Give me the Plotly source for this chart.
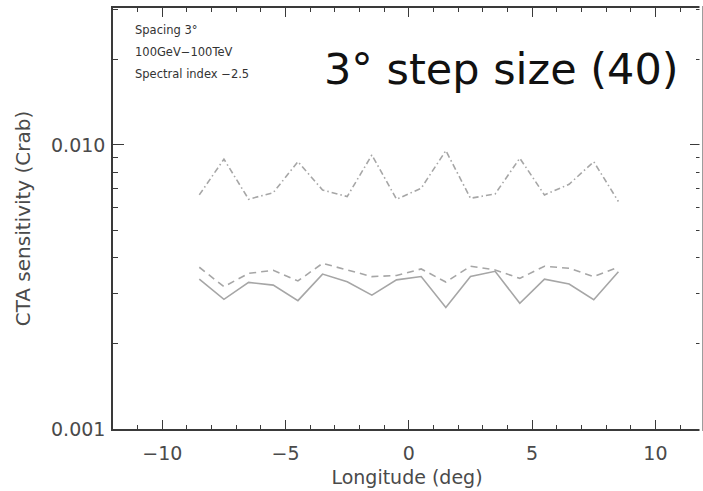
import plotly.graph_objects as go

longitude = [-8.5, -7.5, -6.5, -5.5, -4.5, -3.5, -2.5, -1.5, -0.5,
             0.5, 1.5, 2.5, 3.5, 4.5, 5.5, 6.5, 7.5, 8.5]
sens_solid = [0.00337, 0.00286, 0.00328, 0.00321, 0.00283, 0.00351, 0.00330, 0.00296, 0.00335,
              0.00344, 0.00268, 0.00344, 0.00359, 0.00277, 0.00337, 0.00324, 0.00285, 0.00358]
sens_dashed = [0.00371, 0.00317, 0.00353, 0.00362, 0.00332, 0.00383, 0.00363, 0.00344, 0.00347,
               0.00366, 0.00329, 0.00374, 0.00363, 0.00339, 0.00374, 0.00368, 0.00344, 0.00371]
sens_dashdot = [0.00667, 0.00891, 0.00644, 0.00679, 0.00873, 0.00694, 0.00658, 0.00922, 0.00644,
                0.00704, 0.00955, 0.00649, 0.00672, 0.00898, 0.00667, 0.00727, 0.00873, 0.00632]

x_ticks = [-10, -5, 0, 5, 10]
x_ticktext = ["\u221210", "\u22125", "0", "5", "10"]
x_minor = list(range(-12, 13))
y_ticks = [0.001, 0.01]
y_ticktext = ["0.001", "0.010"]
y_minor = [0.002, 0.003, 0.004, 0.005, 0.006, 0.007, 0.008, 0.009, 0.02, 0.03]
info_lines = ["Spacing 3\u00b0", "100GeV\u2212100TeV", "Spectral index \u22122.5"]
title_text = "3\u00b0 step size (40)"

LINE = "#a6a6a6"
AX = "#3a3a3a"
TXT = "#4a4a4a"

fig = go.Figure()
fig.add_trace(go.Scatter(x=longitude, y=sens_dashdot, mode="lines",
                         line=dict(color=LINE, width=1.6, dash="6px,3px,1.5px,3px")))
fig.add_trace(go.Scatter(x=longitude, y=sens_dashed, mode="lines",
                         line=dict(color=LINE, width=1.6, dash="7px,5px")))
fig.add_trace(go.Scatter(x=longitude, y=sens_solid, mode="lines",
                         line=dict(color=LINE, width=1.6)))

fig.update_layout(
    width=703, height=491,
    margin=dict(l=113, r=0, t=8, b=62),
    paper_bgcolor="white", plot_bgcolor="white",
    showlegend=False,
    font=dict(family="DejaVu Sans", color=TXT),
)

fig.update_xaxes(
    range=[-12, 11.85], showgrid=False, zeroline=False,
    showline=True, linecolor=AX, linewidth=1.5, mirror="ticks",
    tickmode="array", tickvals=x_ticks, ticktext=x_ticktext,
    ticks="inside", ticklen=9, tickwidth=1.3, tickcolor=AX,
    tickfont=dict(size=19, color=TXT), ticklabelstandoff=6,
    minor=dict(tickmode="array", tickvals=x_minor, ticks="inside",
               ticklen=4, tickwidth=1.2, tickcolor=AX, showgrid=False),
    title=dict(text="Longitude (deg)", font=dict(size=19, color=TXT), standoff=8),
)
fig.update_yaxes(
    type="log", range=[-3, -1.518], showgrid=False, zeroline=False,
    showline=True, linecolor=AX, linewidth=1.5, mirror="ticks",
    tickmode="array", tickvals=y_ticks, ticktext=y_ticktext,
    ticks="inside", ticklen=11, tickwidth=1.3, tickcolor=AX,
    tickfont=dict(size=19, color=TXT), ticklabelstandoff=2,
    minor=dict(tickmode="array", tickvals=y_minor, ticks="inside",
               ticklen=5, tickwidth=1.2, tickcolor=AX, showgrid=False),
    title=dict(text="CTA sensitivity (Crab)", font=dict(size=20, color=TXT), standoff=15),
)

# the reference is cropped just before its right frame line: hide the mirrored line
fig.add_shape(type="line", xref="paper", yref="paper", x0=1, x1=1, y0=-0.01, y1=1.01,
              layer="above", line=dict(color="white", width=3))

for i, t in enumerate(info_lines):
    fig.add_annotation(text=t, xref="paper", yref="paper", x=0.034, y=1 - (22 + 22 * i) / 421,
                       xanchor="left", yanchor="middle", showarrow=False,
                       font=dict(size=11.5, color="#333333"))

fig.add_annotation(text=title_text, xref="paper", yref="paper", x=(323 - 113) / 590,
                   y=1 - (69 - 8) / 421, xanchor="left", yanchor="middle", showarrow=False,
                   font=dict(size=43, color="#111111", family="DejaVu Sans"))

fig.write_html("out.html", config={"displayModeBar": False},
               post_script="document.body.style.margin='0';")
